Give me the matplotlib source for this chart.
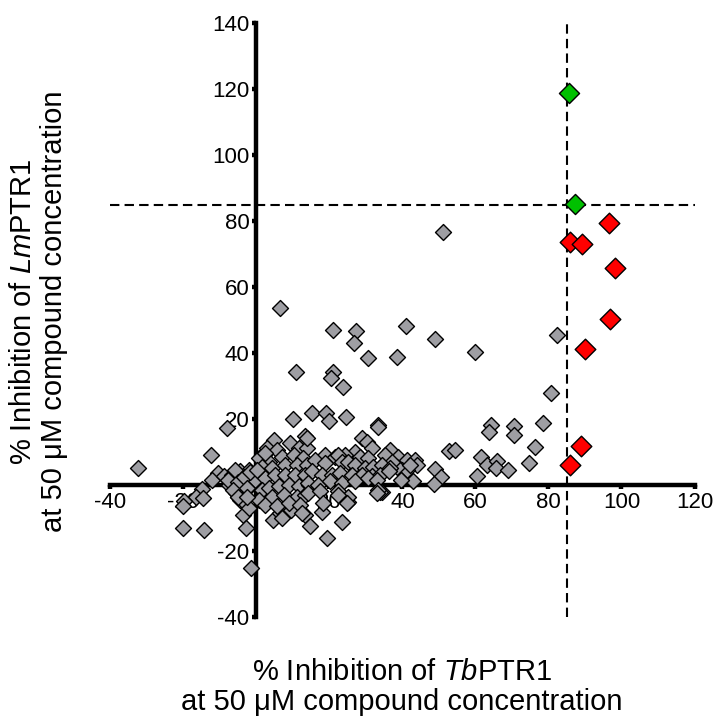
import matplotlib
matplotlib.use("Agg")
import matplotlib.pyplot as plt

plt.rcParams['font.family'] = ['Liberation Sans', 'DejaVu Sans']
plt.rcParams['mathtext.fontset'] = 'custom'
plt.rcParams['mathtext.rm'] = 'Liberation Sans'
plt.rcParams['mathtext.it'] = 'Liberation Sans:italic'
plt.rcParams['axes.unicode_minus'] = False

# % inhibition of TbPTR1 (x) and LmPTR1 (y), all compounds
gray_x = [6.5, 21.1, 27.3, 26.7, 41.0, 48.8, 59.9, 82.4, 30.5, 38.5, 10.9, 21.1, 20.4, 23.6, 80.8, 51.2,
          10.0, 15.3, 19.0, 20.0, 24.6, 33.4, 64.4, 63.7, 70.5, 70.7, 78.6, 76.4, 52.7, 54.3,
          61.5, 63.1, 66.0, 65.7, 69.0, 60.4, 74.6, 48.8, 50.6, 48.7,
          36.6, 38.9, 41.2, 43.5, 43.9, 39.8, 41.3, 43.0, 39.6, 34.4, 32.5, 36.6, 38.5, 42.1,
          -32.3, -7.9, -12.4, -10.6, -12.2, -15.0, -16.4, -14.5, -19.8, -20.0, -20.0, -14.2,
          -4.6, -4.9, -3.6, -2.9, -1.5,
          4.7, 6.5, 7.0, 9.5, 13.3, 14.8, 19.3, 17.9, 23.4, 25.2, 33.9,
          4.8, 9.3, 13.4, 3.0, 2.1, 5.7, 11.6, 13.9, 0.7, 3.4, 7.0, 10.2, 12.9,
          -8.9, -6.7, -4.4, -2.1, 1.6, 4.3, 7.9, 11.1, 13.9,
          -7.6, -5.3, -3.0, -0.3, 2.5, 5.2, 7.9, 10.7, 13.4,
          -5.7, -3.0, 1.6, 3.4, 6.1, 8.9, 11.6, 14.3,
          -3.9, 0.7, 4.3, 7.5, 11.1, 13.4, -2.1, 2.5, 5.7, 8.9, 12.0, 12.5,
          13.8, 28.9, 30.2, 33.4, 27.0, 31.6, 24.3, 18.8, 21.6, 22.5, 28.4, 30.7, 35.3, 37.1,
          16.1, 18.8, 23.4, 25.2, 27.0, 29.8, 32.0, 34.3, 36.6,
          15.2, 17.9, 20.7, 23.0, 26.1, 28.9, 31.6, 33.9, 36.2,
          14.2, 16.9, 20.2, 23.4, 27.0, 30.7, 33.0,
          14.2, 17.4, 22.5, 25.2, 33.4, 33.0, 18.3, 22.5, 24.7,
          -7.8, -5.8, -4.9, -3.5, -1.7, -6.3, -2.6, -4.9, -2.6, 0.1, 2.4]
gray_y = [53.6, 47.1, 46.8, 43.0, 48.3, 44.3, 40.3, 45.6, 38.7, 39.0, 34.4, 34.4, 32.4, 29.7, 28.0, 76.7,
          20.0, 21.8, 21.8, 19.6, 20.6, 18.3, 18.4, 16.2, 17.9, 15.2, 18.8, 11.7, 10.4, 10.7,
          8.7, 6.1, 7.5, 5.3, 4.7, 2.8, 6.8, 4.8, 2.6, 0.4,
          10.7, 8.7, 7.7, 7.7, 6.2, 4.6, 4.6, 1.3, 1.6, -1.9, 3.6, 7.1, 5.6, 6.1,
          5.2, 17.3, 9.1, 3.8, 1.6, -1.2, -3.6, -3.8, -4.8, -6.3, -12.8, -13.6,
          -4.5, -3.6, -9.0, -12.9, -25.2,
          -10.5, -8.5, -10.0, -7.5, -9.0, -12.2, -16.1, -8.0, -11.0, -5.0, -1.9,
          13.7, 12.7, 14.8, 11.2, 9.2, 10.7, 11.2, 11.2, 8.2, 7.2, 8.7, 9.2, 8.2,
          2.7, 3.2, 4.2, 4.7, 5.7, 5.2, 6.2, 6.2, 6.2,
          0.2, 0.7, 1.2, 1.7, 2.2, 3.2, 3.2, 3.2, 3.2,
          -2.3, -1.8, -1.3, -0.8, -0.3, 0.2, -0.3, 0.2,
          -4.4, -4.4, -3.4, -2.8, -3.4, -2.8, -6.9, -5.9, -6.4, -5.4, -5.9, -8.4,
          14.3, 14.3, 13.2, 17.8, 10.2, 11.2, 9.2, 9.2, 8.7, 9.2, 8.7, 8.2, 9.2, 7.2,
          7.7, 6.7, 7.2, 7.2, 6.2, 5.2, 5.7, 6.2, 5.2,
          4.2, 3.2, 3.2, 3.7, 3.2, 3.2, 2.7, 3.2, 4.2,
          0.7, 0.2, 1.2, 0.7, 1.2, 2.2, 1.7,
          -2.3, -1.8, -1.8, -3.4, -1.3, -2.3, -5.4, -2.8, -5.4,
          1.6, 4.6, 1.1, 2.6, 4.1, -1.4, -0.9, -3.4, -3.4, 4.6, 9.7]

# selective TbPTR1 hits
red_x = [96.7, 85.9, 89.1, 98.3, 96.9, 89.9, 89.0, 85.9]
red_y = [79.4, 73.8, 73.1, 65.8, 50.3, 41.2, 11.9, 6.2]

# dual hits
green_x = [85.5, 87.3]
green_y = [118.8, 85.2]

cutoff = 85

fig = plt.figure(figsize=(7.16, 7.19), dpi=100)
ax = fig.add_axes([0.154, 0.1414, 0.816, 0.8262])

ax.axvline(cutoff, color='black', lw=1.5, ls=(0, (4.5, 2.5)), zorder=1)
ax.axhline(cutoff, color='black', lw=1.5, ls=(0, (4.5, 2.5)), zorder=1)

ax.scatter(gray_x, gray_y, marker='D', s=66, c='#9e9ea3', edgecolors='black', linewidths=1.0, zorder=3)
ax.scatter(red_x, red_y, marker='D', s=110, c='#ff0000', edgecolors='black', linewidths=1.0, zorder=4)
ax.scatter(green_x, green_y, marker='D', s=105, c='#00c000', edgecolors='black', linewidths=1.0, zorder=4)

ax.set_xlim(-40, 120)
ax.set_ylim(-40, 140)

ax.spines['left'].set_position(('data', 0))
ax.spines['bottom'].set_position(('data', 0))
ax.spines['top'].set_visible(False)
ax.spines['right'].set_visible(False)
for side in ['left', 'bottom']:
    ax.spines[side].set_linewidth(3.2)
    ax.spines[side].set_zorder(2)

xt = list(range(-40, 121, 20))
yt = list(range(-40, 141, 20))
ax.set_xticks(xt)
ax.set_xticklabels(['' if v == 0 else str(v) for v in xt])
ax.set_yticks(yt)
ax.set_yticklabels(['' if v == 0 else str(v) for v in yt])
ax.tick_params(direction='out', length=3, width=3.2, labelsize=16, pad=2)

fig.text(0.5615, 0.0445, '% Inhibition of $\\it{Tb}$PTR1\nat 50 \u03bcM compound concentration',
         ha='center', va='center', fontsize=21, linespacing=1.13)
fig.text(0.054, 0.567, '% Inhibition of $\\it{Lm}$PTR1\nat 50 \u03bcM compound concentration',
         ha='center', va='center', rotation=90, fontsize=21, linespacing=1.13)

fig.savefig('out.png', dpi=100)
